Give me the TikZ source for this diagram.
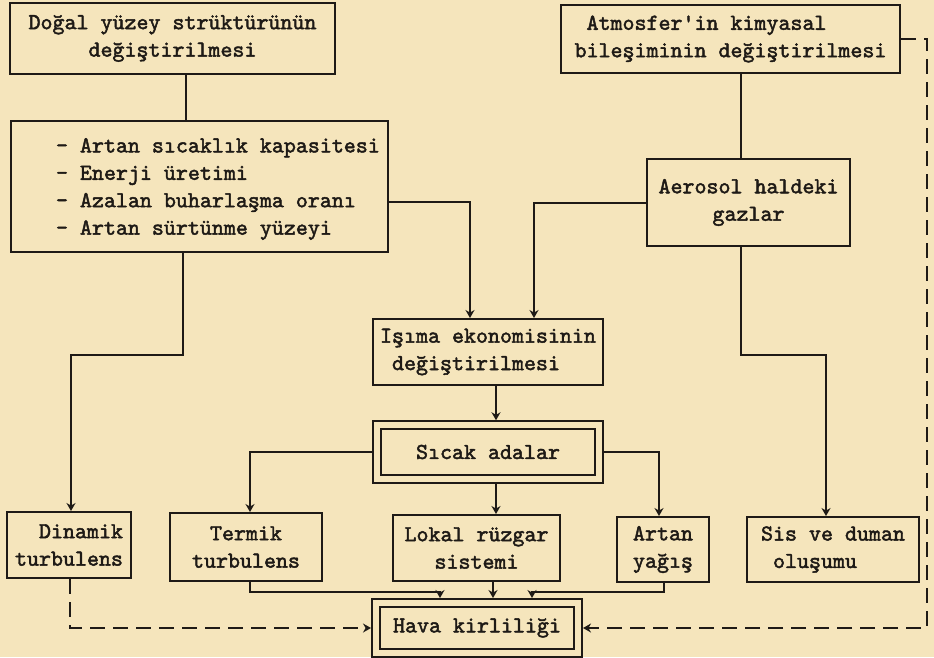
\documentclass[tikz,border=0pt]{standalone}
\usepackage{fontspec}
\usepackage{tikz}
\usetikzlibrary{arrows.meta}

\newfontfamily\typewriter{lmmono10-regular.otf}[FakeBold=2]

\definecolor{paper}{RGB}{245,229,188}
\definecolor{ink}{RGB}{30,26,22}

\tikzset{
    box/.style={draw=ink, line width=.4mm, text=ink, align=center, inner sep=1mm,
        font=\typewriter\fontsize{13}{15.6}\selectfont},
    dbox/.style={box, double=paper, double distance=1.2mm, outer sep=1mm},
    link/.style={draw=ink, line width=.4mm},
    flow/.style={link, -{Stealth[length=1.6mm, width=1.8mm]}},
    dashlink/.style={flow, dash pattern=on 3mm off 1.6mm},
}

\begin{document}
\begin{tikzpicture}[x=0.2mm, y=-0.2mm]
            % Paper
            \fill[paper] (0,0) rectangle (934,657);
            \useasboundingbox (0,0) rectangle (934,657);
            % Causes
            \node[box, minimum width=65mm, minimum height=14.2mm]
            (Cause-1) at (172.5,38.5) {Doğal yüzey strüktürünün\\değiştirilmesi};
            \node[box, align=left, minimum width=67.8mm, minimum height=13.6mm]
            (Cause-2) at (730.5,39) {\phantom{x}Atmosfer'in kimyasal\\bileşiminin değiştirilmesi};
            % Changes
            \node[box, minimum width=75.4mm, minimum height=26.2mm]
            (Change-1) at (199.5,186.5) {};
            \node[box, draw=none, align=left, anchor=west] (Change-1-text) at (50,189)
            {- Artan sıcaklık kapasitesi\\- Enerji üretimi\\- Azalan buharlaşma oranı\\- Artan sürtünme yüzeyi};
            \node[box, minimum width=40.6mm, minimum height=17.4mm]
            (Change-2) at (748.5,202.5) {Aerosol haldeki\\gazlar};
            % Radiation and heat islands
            \node[box, align=left, minimum width=46mm, minimum height=13.2mm]
            (Radiation) at (488,352) {Işıma ekonomisinin\\\phantom{x}değiştirilmesi};
            \node[dbox, minimum width=44.3mm, minimum height=10.7mm]
            (Heat) at (488,452) {Sıcak adalar};
            % Effects
            \node[box, minimum width=24.6mm, minimum height=13.2mm]
            (Effect-1) at (69,545) {\phantom{xx}Dinamik\\turbulens};
            \node[box, minimum width=30.4mm, minimum height=13.6mm]
            (Effect-2) at (246,547) {Termik\\turbulens};
            \node[box, minimum width=33.4mm, minimum height=13.2mm]
            (Effect-3) at (476.5,548) {Lokal rüzgar\\sistemi};
            \node[box, minimum width=18.4mm, minimum height=13mm]
            (Effect-4) at (663,549.5) {Artan\\yağış};
            \node[box, align=left, minimum width=34.4mm, minimum height=13mm]
            (Effect-5) at (833,549.5) {Sis ve duman\\\phantom{x}oluşumu};
            % Result
            \node[dbox, minimum width=40.4mm, minimum height=10mm]
            (Pollution) at (477,628) {Hava kirliliği};
            % Arrows
            \draw[link] (Cause-1.south -| 186,0) -- (Change-1.north -| 186,0);
            \draw[link] (Cause-2.south -| 741,0) -- (Change-2.north -| 741,0);
            \draw[flow] (Change-1.east |- 0,202) -| (Radiation.north -| 470,0);
            \draw[flow] (Change-2.west) -| (Radiation.north -| 534,0);
            \draw[flow] (Change-1.south -| 183,0) |- (71,355) -- (Effect-1.north -| 71,0);
            \draw[flow] (Change-2.south -| 741,0) |- (826,355) -- (Effect-5.north -| 826,0);
            \draw[flow] (Radiation.south -| 496,0) -- (Heat.north -| 496,0);
            \draw[flow] (Heat.west) -| (Effect-2.north -| 250,0);
            \draw[flow] (Heat.east) -| (Effect-4.north -| 659,0);
            \draw[flow] (Heat.south -| 496,0) -- (Effect-3.north -| 496,0);
            \draw[flow] (Effect-2.south -| 250,0) |- (440,592) -- (Pollution.north -| 440,0);
            \draw[flow] (Effect-3.south -| 493,0) -- (Pollution.north -| 493,0);
            \draw[flow] (Effect-4.south -| 664,0) |- (532,592) -- (Pollution.north -| 532,0);
            \draw[dashlink] (Effect-1.south -| 70,0) |- (Pollution.west);
            \draw[dashlink] (Cause-2.east) -| (927,628) -- (Pollution.east);
        \end{tikzpicture}
\end{document}
